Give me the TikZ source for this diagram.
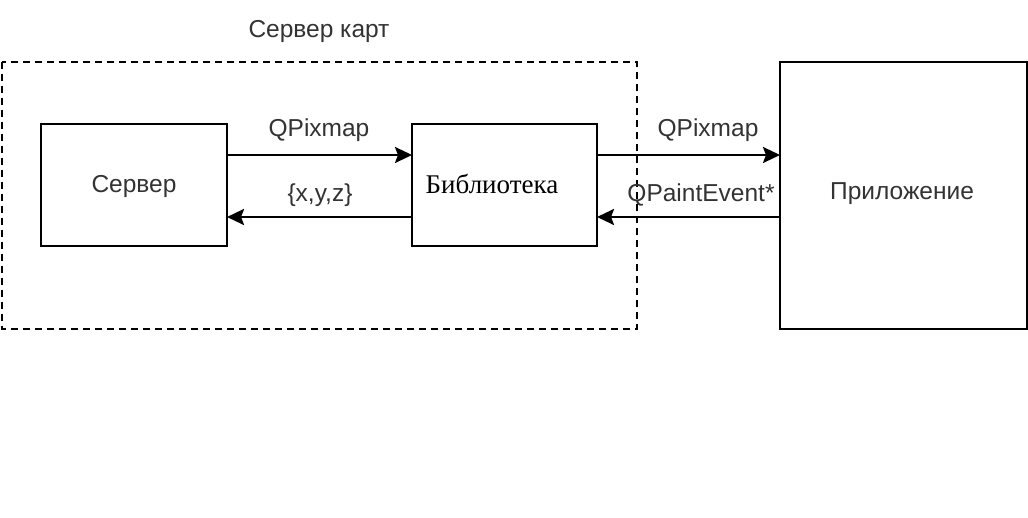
\documentclass[tikz,border=0pt]{standalone}
\usepackage{fontspec}
\setmainfont{Liberation Sans}
\newfontfamily\tnr{Liberation Serif}
\usetikzlibrary{arrows.meta}
\definecolor{txt}{HTML}{333333}
\tikzset{
  lbl/.style={text=txt, font=\fontsize{24.5}{29}\selectfont, inner sep=0pt},
  conn/.style={line width=2.5pt, -{Stealth[length=17pt,width=16pt,inset=3pt]}},
  bx/.style={line width=2.5pt},
}
\begin{document}
\begin{tikzpicture}[x=1pt,y=-1pt]
\useasboundingbox (0,0) rectangle (1028,518);
\fill[white] (0,0) rectangle (1028,518);
% group
\draw[line width=2.3pt, dash pattern=on 7pt off 5pt] (2,62) rectangle (637,329);
\node[lbl] (grp) at (319,31) {Сервер карт};
% boxes
\draw[bx] (41,124) rectangle (227,246);
\node[lbl] (srv) at (134,186) {Сервер};
\draw[bx] (412,124) rectangle (597,246);
\node[font=\tnr\fontsize{27}{32}\selectfont, inner sep=0pt] (lib) at (492,184) {Библиотека};
\draw[bx] (780,62) rectangle (1027,329);
\node[lbl] (app) at (902,194) {Приложение};
% connector endpoints
\coordinate (s1) at (227,155);
\coordinate (l1) at (412,155);
\coordinate (s2) at (227,217);
\coordinate (l2) at (412,217);
\coordinate (l3) at (597,155);
\coordinate (a3) at (780,155);
\coordinate (l4) at (597,217);
\coordinate (a4) at (780,217);
\draw[conn] (s1) -- (l1);
\draw[conn] (l2) -- (s2);
\draw[conn] (l3) -- (a3);
\draw[conn] (a4) -- (l4);
\node[lbl] (q1) at (319,130) {QPixmap};
\node[lbl] (xyz) at (320,195) {\{x,y,z\}};
\node[lbl] (q2) at (708,130) {QPixmap};
\node[lbl] (pe) at (701,195) {QPaintEvent*};
\end{tikzpicture}
\end{document}
